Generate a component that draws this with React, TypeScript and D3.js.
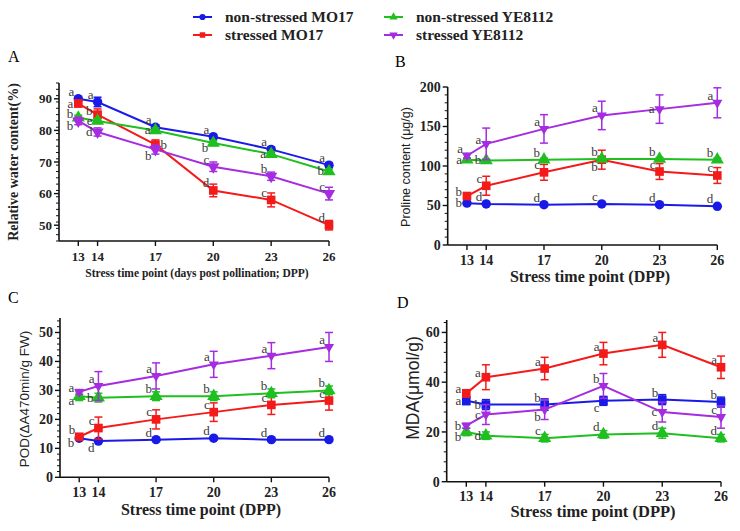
import * as d3 from 'd3'

const days = [13, 14, 17, 20, 23, 26]
const seriesNames = ['non-stressed MO17', 'stressed MO17', 'non-stressed YE8112', 'stressed YE8112']
const seriesColors = ['#1a1ae8', '#f51a1a', '#1fbf1f', '#a52ce0']

// A  relative water content
const rwcNsMO17 = [90, 89, 81, 78, 74, 69]
const rwcSMO17 = [88.5, 85, 75.5, 61, 58, 50]
const rwcNsYE = [84, 83, 80, 76, 72.5, 67]
const rwcSYE = [83, 79.5, 74, 68.5, 65.5, 60]
const rwcErrNsMO17 = [0.8, 1.5, 0.8, 0.8, 0.8, 0.8]
const rwcErrSMO17 = [1, 1.8, 1.5, 2, 2.2, 1.5]
const rwcErrNsYE = [0.8, 0.8, 0.8, 0.8, 0.8, 0.8]
const rwcErrSYE = [1.2, 1.3, 1.5, 1.5, 1.3, 2]
const rwcLetters = [
  ['a', 'a', 'a', 'a', 'a', 'a'],
  ['a', 'b', 'b', 'd', 'c', 'd'],
  ['b', 'e', 'a', 'b', 'a', 'b'],
  ['b', 'd', 'b', 'c', 'b', 'c'],
]
const rwcPlace = [
  ['u', 'u', 'u', 'u', 'u', 'u'],
  ['l', 'lu', 'r', 'u', 'u', 'u'],
  ['lu', 'l', 'l', 'dl', 'l', 'l'],
  ['dl', 'l', 'd', 'u', 'u', 'u'],
]

// B  proline
const proNsMO17 = [53, 52, 51, 52, 51, 49]
const proSMO17 = [62, 75, 92, 108, 93, 88]
const proNsYE = [108, 107, 108, 109, 109, 108]
const proSYE = [113, 128, 147, 164, 172, 180]
const proErrNsMO17 = [1, 1, 1, 1, 1, 1]
const proErrSMO17 = [2, 12, 10, 12, 10, 10]
const proErrNsYE = [2, 2, 2, 2, 2, 2]
const proErrSYE = [3, 20, 18, 18, 18, 19]
const proLetters = [
  ['b', 'd', 'd', 'c', 'd', 'd'],
  ['b', 'c', 'c', 'b', 'c', 'c'],
  ['a', 'b', 'b', 'b', 'b', 'b'],
  ['a', 'a', 'a', 'a', 'a', 'a'],
]
const proPlace = [
  ['l', 'u', 'u', 'u', 'u', 'u'],
  ['lu', 'u', 'u', 'd', 'u', 'u'],
  ['l', 'l', 'u', 'u', 'u', 'u'],
  ['u', 'lu', 'u', 'u', 'l', 'u'],
]

// C  POD
const podNsMO17 = [13.5, 12.5, 13, 13.5, 13, 13]
const podSMO17 = [14, 17, 20, 22.5, 25, 26.5]
const podNsYE = [28, 27.5, 28, 28, 29, 30]
const podSYE = [29.5, 31.5, 35, 39, 42, 45]
const podErrNsMO17 = [0.5, 0.5, 0.5, 0.5, 0.5, 0.5]
const podErrSMO17 = [0.8, 3.8, 3.3, 3.2, 3.3, 3.3]
const podErrNsYE = [1.5, 1.5, 1.5, 1.5, 1.5, 1.5]
const podErrSYE = [0.8, 5, 4.5, 4.5, 4.5, 5]
const podLetters = [
  ['b', 'd', 'd', 'd', 'd', 'd'],
  ['b', 'c', 'c', 'c', 'c', 'c'],
  ['a', 'b', 'b', 'b', 'b', 'b'],
  ['a', 'a', 'a', 'a', 'a', 'a'],
]
const podPlace = [
  ['dl', 'd', 'u', 'u', 'u', 'u'],
  ['u', 'u', 'u', 'u', 'u', 'u'],
  ['dl', 'l', 'u', 'u', 'u', 'u'],
  ['lu', 'u', 'u', 'u', 'u', 'u'],
]

// D  MDA
const mdaNsMO17 = [32.5, 31, 31, 32.5, 33, 32]
const mdaSMO17 = [35.5, 42, 45.5, 51.5, 55, 46]
const mdaNsYE = [20, 18.5, 17.5, 19, 19.5, 17.5]
const mdaSYE = [22.5, 27, 29, 38.5, 28, 26]
const mdaErrNsMO17 = [1.5, 2, 2.3, 1.8, 2, 2]
const mdaErrSMO17 = [1.5, 5, 4.5, 4.5, 5, 4.5]
const mdaErrNsYE = [1.5, 1.5, 1.5, 1.5, 2, 1.5]
const mdaErrSYE = [1, 4, 4, 5, 4, 4.5]
const mdaLetters = [
  ['a', 'b', 'b', 'c', 'b', 'b'],
  ['a', 'a', 'a', 'a', 'a', 'a'],
  ['b', 'd', 'c', 'd', 'd', 'd'],
  ['b', 'c', 'b', 'b', 'c', 'c'],
]
const mdaPlace = [
  ['l', 'l', 'u', 'd', 'u', 'u'],
  ['lu', 'lu', 'u', 'u', 'u', 'u'],
  ['dl', 'l', 'u', 'u', 'u', 'u'],
  ['l', 'l', 'd', 'u', 'l', 'u'],
]

const SERIF = '"Liberation Serif", "Times New Roman", serif'
const SANS = '"Liberation Sans", Arial, sans-serif'

type Mark = 'circle' | 'square' | 'tri' | 'triDown'

const markPath = (m: Mark, size: number) => {
  const t = m === 'circle' ? d3.symbolCircle : m === 'square' ? d3.symbolSquare : d3.symbolTriangle
  return d3.symbol().type(t).size(size)() as string
}

const panels = [
  {
    label: 'A', lx: 8, ly: 62,
    x0: 59, x1: 329, yTop: 83, yBot: 241, yDomain: [45, 95], majors: [50, 60, 70, 80, 90], minor: 2,
    yTitle: 'Relative water content(%)', yTitleFont: SERIF, yTitleSize: 14, yTitleBold: true, ytx: 18, yty: 162,
    xTitle: 'Stress time point (days post pollination; DPP)', xTitleSize: 11.5, xtx: 197, xty: 277,
    tickSize: 13, xTickY: 261,
    values: [rwcNsMO17, rwcSMO17, rwcNsYE, rwcSYE],
    errs: [rwcErrNsMO17, rwcErrSMO17, rwcErrNsYE, rwcErrSYE],
    letters: rwcLetters, place: rwcPlace,
    marks: ['circle', 'square', 'tri', 'triDown'] as Mark[], purpleSize: 65,
  },
  {
    label: 'B', lx: 395, ly: 67,
    x0: 447.7, x1: 717.3, yTop: 87, yBot: 245, yDomain: [0, 200], majors: [0, 50, 100, 150, 200], minor: 10,
    yTitle: 'Proline content (μg/g)', yTitleFont: SANS, yTitleSize: 12.5, yTitleBold: false, ytx: 410, yty: 167,
    xTitle: 'Stress time point (DPP)', xTitleSize: 16, xtx: 590, xty: 282,
    tickSize: 14, xTickY: 265,
    values: [proNsMO17, proSMO17, proNsYE, proSYE],
    errs: [proErrNsMO17, proErrSMO17, proErrNsYE, proErrSYE],
    letters: proLetters, place: proPlace,
    marks: ['circle', 'square', 'tri', 'triDown'] as Mark[], purpleSize: 45,
  },
  {
    label: 'C', lx: 8, ly: 303,
    x0: 60, x1: 329, yTop: 318, yBot: 477.3, yDomain: [0, 55], majors: [0, 10, 20, 30, 40, 50], minor: 2,
    yTitle: 'POD(ΔA470min/g FW)', yTitleFont: SANS, yTitleSize: 13.5, yTitleBold: false, ytx: 29, yty: 399,
    xTitle: 'Stress time point (DPP)', xTitleSize: 16, xtx: 201, xty: 515,
    tickSize: 14, xTickY: 497,
    values: [podNsMO17, podSMO17, podNsYE, podSYE],
    errs: [podErrNsMO17, podErrSMO17, podErrNsYE, podErrSYE],
    letters: podLetters, place: podPlace,
    marks: ['circle', 'square', 'tri', 'triDown'] as Mark[], purpleSize: 45,
  },
  {
    label: 'D', lx: 397, ly: 308,
    x0: 446.7, x1: 721, yTop: 320, yBot: 481.7, yDomain: [0, 65], majors: [0, 20, 40, 60], minor: 4,
    yTitle: 'MDA(μmol/g)', yTitleFont: SANS, yTitleSize: 17.5, yTitleBold: false, ytx: 419, yty: 388,
    xTitle: 'Stress time point (DPP)', xTitleSize: 16.5, xtx: 593, xty: 517,
    tickSize: 14, xTickY: 501,
    values: [mdaNsMO17, mdaSMO17, mdaNsYE, mdaSYE],
    errs: [mdaErrNsMO17, mdaErrSMO17, mdaErrNsYE, mdaErrSYE],
    letters: mdaLetters, place: mdaPlace,
    marks: ['square', 'square', 'tri', 'triDown'] as Mark[], purpleSize: 45,
  },
]

// where a significance letter sits relative to its point
const placeLetter = (p: string, x: number, y: number) => {
  if (p === 'l') return { x: x - 5, y: y + 4, anchor: 'end' }
  if (p === 'lu') return { x: x - 5, y: y, anchor: 'end' }
  if (p === 'dl') return { x: x - 5, y: y + 9, anchor: 'end' }
  if (p === 'd') return { x: x - 4, y: y + 11, anchor: 'end' }
  if (p === 'r') return { x: x + 5, y: y + 4, anchor: 'start' }
  return { x: x - 4, y: y - 3, anchor: 'end' }
}

function Panel({ cfg }: { cfg: typeof panels[number] }) {
  const x = d3.scaleLinear().domain([12, 26]).range([cfg.x0, cfg.x1])
  const y = d3.scaleLinear().domain(cfg.yDomain).range([cfg.yBot, cfg.yTop])
  const ax = x(12)
  const minors = d3.range(cfg.yDomain[0], cfg.yDomain[1] + 0.001, cfg.minor)
    .filter(v => !cfg.majors.some(m => Math.abs(m - v) < 1e-6))
  const line = d3.line<number>().x((_, i) => x(days[i])).y(v => y(v))
  const markSize = (k: number) => (k === 3 ? cfg.purpleSize : cfg.marks[k] === 'circle' ? 70 : 75)

  return (
    <g>
      <text x={cfg.lx} y={cfg.ly} fontFamily={SERIF} fontSize={16}>{cfg.label}</text>

      {/* axes */}
      <line x1={ax} x2={ax} y1={cfg.yTop} y2={cfg.yBot} stroke="#111" strokeWidth={1.6} />
      <line x1={ax} x2={x(26)} y1={cfg.yBot} y2={cfg.yBot} stroke="#111" strokeWidth={1.6} />
      {cfg.majors.map(v => (
        <g key={'ym' + v}>
          <line x1={ax - 5} x2={ax} y1={y(v)} y2={y(v)} stroke="#111" strokeWidth={1.4} />
          <text x={ax - 7} y={y(v)} dy="0.35em" textAnchor="end" fontFamily={SERIF} fontWeight="bold"
            fontSize={cfg.tickSize} fill="#222">{v}</text>
        </g>
      ))}
      {minors.map(v => (
        <line key={'yn' + v} x1={ax - 3} x2={ax} y1={y(v)} y2={y(v)} stroke="#111" strokeWidth={1} />
      ))}
      {days.map(d => (
        <g key={'x' + d}>
          <line x1={x(d)} x2={x(d)} y1={cfg.yBot} y2={cfg.yBot + 5} stroke="#111" strokeWidth={1.4} />
          <text x={x(d)} y={cfg.xTickY} textAnchor="middle" fontFamily={SERIF} fontWeight="bold"
            fontSize={cfg.tickSize} fill="#222">{d}</text>
        </g>
      ))}
      <text x={cfg.xtx} y={cfg.xty} textAnchor="middle" fontFamily={SERIF} fontWeight="bold"
        fontSize={cfg.xTitleSize} fill="#222">{cfg.xTitle}</text>
      <text transform={`translate(${cfg.ytx},${cfg.yty}) rotate(-90)`} textAnchor="middle"
        fontFamily={cfg.yTitleFont} fontWeight={cfg.yTitleBold ? 'bold' : 'normal'}
        fontSize={cfg.yTitleSize} fill="#222">{cfg.yTitle}</text>

      {/* series */}
      {cfg.values.map((vals, k) => (
        <g key={'s' + k}>
          <path d={line(vals) as string} fill="none" stroke={seriesColors[k]} strokeWidth={2} />
          {vals.map((v, i) => {
            const e = cfg.errs[k][i]
            const px = x(days[i])
            return (
              <g key={i} stroke={seriesColors[k]} strokeWidth={1.5}>
                <line x1={px} x2={px} y1={y(v - e)} y2={y(v + e)} />
                <line x1={px - 4} x2={px + 4} y1={y(v - e)} y2={y(v - e)} />
                <line x1={px - 4} x2={px + 4} y1={y(v + e)} y2={y(v + e)} />
              </g>
            )
          })}
          {vals.map((v, i) => (
            <path key={'m' + i} d={markPath(cfg.marks[k], markSize(k))}
              transform={`translate(${x(days[i])},${y(v)})${cfg.marks[k] === 'triDown' ? ' rotate(180)' : ''}`}
              fill={seriesColors[k]} />
          ))}
        </g>
      ))}

      {/* significance letters */}
      {cfg.values.map((vals, k) => vals.map((v, i) => {
        const p = placeLetter(cfg.place[k][i], x(days[i]), y(v))
        return (
          <text key={`l${k}-${i}`} x={p.x} y={p.y} textAnchor={p.anchor} fontFamily={SERIF}
            fontSize={13} fill="#3a3a3a">{cfg.letters[k][i]}</text>
        )
      }))}
    </g>
  )
}

const legendMarks: Mark[] = ['circle', 'square', 'tri', 'triDown']

export default function App() {
  const legendPos = [
    { x: 193, y: 17 }, { x: 193, y: 35 }, { x: 384, y: 17 }, { x: 384, y: 35 },
  ]
  return (
    <svg width={740} height={531} style={{ position: 'absolute', left: 0, top: 0, background: '#fff' }}>
      <rect width={740} height={531} fill="#fff" />
      {seriesNames.map((name, k) => {
        const p = legendPos[k]
        return (
          <g key={name}>
            <line x1={p.x} x2={p.x + 19} y1={p.y} y2={p.y} stroke={seriesColors[k]} strokeWidth={2} />
            <path d={markPath(legendMarks[k], 30)}
              transform={`translate(${p.x + 9.5},${p.y})${legendMarks[k] === 'triDown' ? ' rotate(180)' : ''}`}
              fill={seriesColors[k]} />
            <text x={p.x + 32} y={p.y} dy="0.35em" fontFamily={SERIF} fontWeight="bold" fontSize={15.5}
              fill="#222">{name}</text>
          </g>
        )
      })}
      {panels.map(cfg => <Panel key={cfg.label} cfg={cfg} />)}
    </svg>
  )
}
